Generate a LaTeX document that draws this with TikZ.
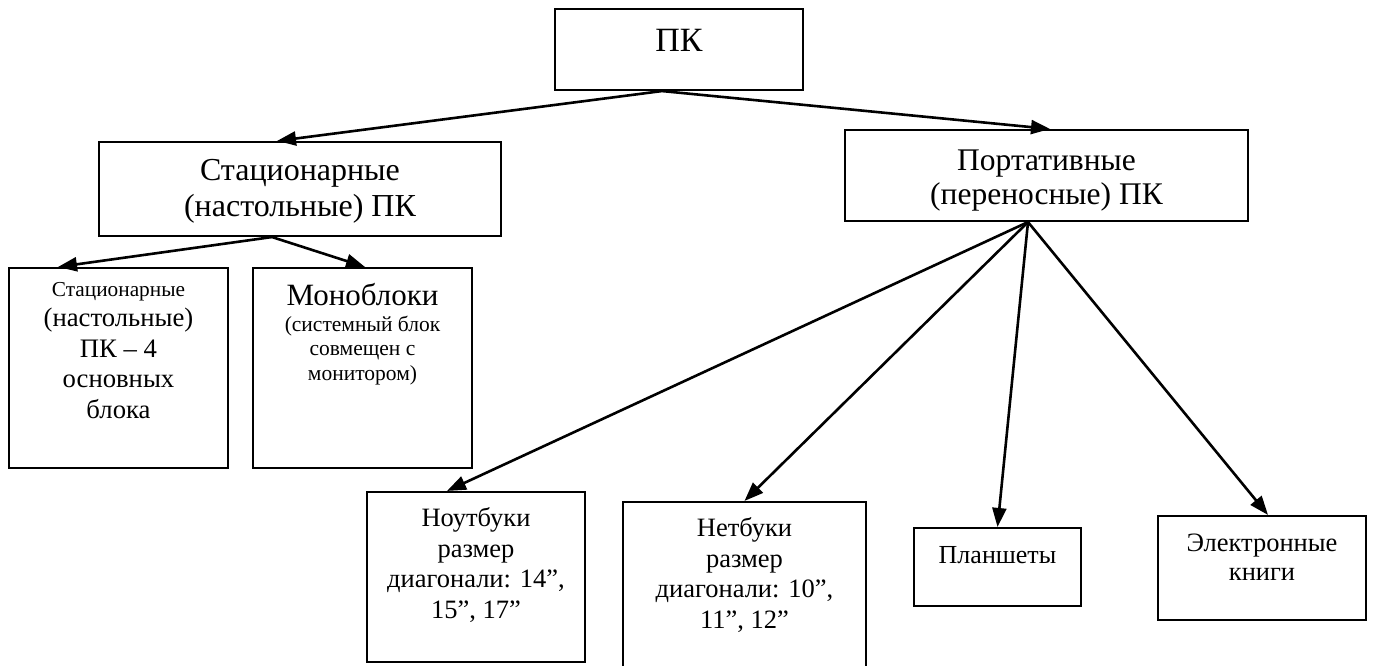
\documentclass[tikz,border=0pt]{standalone}
\usepackage{fontspec}
\setmainfont{Liberation Serif}
\usetikzlibrary{arrows.meta}

\begin{document}
\begin{tikzpicture}
  [x=1pt, y=-1pt,
   box/.style={draw, line width=2.1pt, rectangle, inner sep=0pt},
   txt/.style={inner sep=0pt, align=center, anchor=base},
   arr/.style={line width=2.6pt, -{Triangle[length=19pt,width=14pt]}}]
  \useasboundingbox (0,0) rectangle (1373,666);
  % Level 1: the root box
  \node[box, minimum width=248, minimum height=81] (pk) at (679,49.5) {};
  \node[txt, font=\fontsize{34}{38}\selectfont] (pk-t) at (679,52) {ПК};
  % Level 2: desktop and portable
  \node[box, minimum width=402, minimum height=94] (stat) at (300,189) {};
  \node[txt, font=\fontsize{32}{36}\selectfont] (stat-t) at (300,216.7)
    {Стационарные\\(настольные) ПК};
  \node[box, minimum width=403, minimum height=91] (port) at (1046.5,175.5) {};
  \node[txt, font=\fontsize{31.5}{34}\selectfont] (port-t) at (1046.5,204)
    {Портативные\\(переносные) ПК};
  \draw[arr] ([xshift=-17]pk.south) -- ([xshift=-23]stat.north);
  \draw[arr] ([xshift=-17]pk.south) -- ([xshift=3.5]port.north);
  % Level 3: under the desktop box
  \node[box, minimum width=219, minimum height=200] (desk) at (118.5,368) {};
  \node[txt, font=\fontsize{26.7}{30.5}\selectfont] (desk-t) at (118.5,418)
    {{\fontsize{21.3}{24}\selectfont Стационарные}\\(настольные)\\ПК – 4\\основных\\блока};
  \node[box, minimum width=219, minimum height=200] (mono) at (362.5,368) {};
  \node[txt, font=\fontsize{31}{35}\selectfont] (mono-t) at (362.5,305) {Моноблоки};
  \node[txt, font=\fontsize{21.5}{24.5}\selectfont] (mono-s) at (362.5,380)
    {(системный блок\\совмещен с\\монитором)};
  \draw[arr] ([xshift=-28]stat.south) -- ([xshift=-60.5]desk.north);
  \draw[arr] ([xshift=-28]stat.south) -- ([xshift=2.5]mono.north);
  % Level 3: under the portable box
  \node[box, minimum width=218, minimum height=170] (note) at (476,577) {};
  \node[txt, font=\fontsize{26.5}{30.5}\selectfont] (note-t) at (476,618.3)
    {Ноутбуки\\размер\\диагонали: 14”,\\15”, 17”};
  \node[box, minimum width=243, minimum height=198] (net) at (744.5,601) {};
  \node[txt, font=\fontsize{26.5}{30.5}\selectfont] (net-t) at (744.5,628.3)
    {Нетбуки\\размер\\диагонали: 10”,\\11”, 12”};
  \node[box, minimum width=167, minimum height=78] (tab) at (997.5,567) {};
  \node[txt, font=\fontsize{26}{30}\selectfont] (tab-t) at (997.5,563.3) {Планшеты};
  \node[box, minimum width=208, minimum height=104] (ebook) at (1262,568) {};
  \node[txt, font=\fontsize{26.5}{28.3}\selectfont] (ebook-t) at (1262,580)
    {Электронные\\книги};
  \draw[arr] ([xshift=-18.5]port.south) -- ([xshift=-29]note.north);
  \draw[arr] ([xshift=-18.5]port.south) -- (net.north);
  \draw[arr] ([xshift=-18.5]port.south) -- (tab.north);
  \draw[arr] ([xshift=-18.5]port.south) -- ([xshift=6]ebook.north);
\end{tikzpicture}
\end{document}
